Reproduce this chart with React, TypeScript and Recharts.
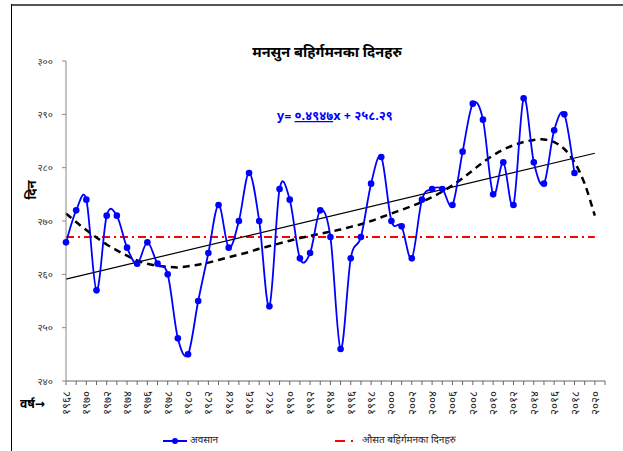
import React from 'react';
import { LineChart, Line, XAxis, YAxis, Legend } from 'recharts';

// years on the category axis (one spare slot at the end, as in the original)
const years = [
  1968, 1969, 1970, 1971, 1972, 1973, 1974, 1975, 1976, 1977,
  1978, 1979, 1980, 1981, 1982, 1983, 1984, 1985, 1986, 1987,
  1988, 1989, 1990, 1991, 1992, 1993, 1994, 1995, 1996, 1997,
  1998, 1999, 2000, 2001, 2002, 2003, 2004, 2005, 2006, 2007,
  2008, 2009, 2010, 2011, 2012, 2013, 2014, 2015, 2016, 2017,
  2018, 2019, 2020, 2021,
];

// monsoon withdrawal day, 1968-2018
const withdrawal = [
  266, 272, 274, 257, 271, 271, 265, 262, 266, 262,
  260, 248, 245, 255, 264, 273, 265, 270, 279, 270,
  254, 276, 274, 263, 264, 272, 267, 246, 263, 267,
  277, 282, 270, 269, 263, 274, 276, 276, 273, 283,
  292, 289, 275, 281, 273, 293, 281, 277, 287, 290,
  279,
];

// polynomial trend (dashed), 1968-2020
const polyTrend = [
  271.4, 269.8, 268.3, 266.9, 265.6, 264.5, 263.5, 262.6, 262.0, 261.6,
  261.4, 261.3, 261.5, 261.8, 262.2, 262.7, 263.2, 263.7, 264.2, 264.8,
  265.3, 265.8, 266.3, 266.8, 267.2, 267.6, 268.0, 268.4, 268.9, 269.4,
  270.0, 270.7, 271.4, 272.1, 272.8, 273.6, 274.5, 275.5, 276.7, 278.0,
  279.5, 281.0, 282.3, 283.4, 284.2, 284.8, 285.2, 285.3, 284.8, 283.5,
  281.0, 277.0, 271.0,
];

// linear trend end points (1968 and 2020)
const linearStart = 259.1;
const linearEnd = 282.7;
// long term average withdrawal day
const averageDay = 267;

const yTicks = [240, 250, 260, 270, 280, 290, 300];

const devDigits = ['०', '१', '२', '३', '४', '५', '६', '७', '८', '९'];
const toDev = (n: number | string) =>
  String(n).replace(/[0-9]/g, (d) => devDigits[Number(d)]);

const chartData = years.map((year, i) => ({
  year,
  withdrawal: i < withdrawal.length ? withdrawal[i] : null,
  poly: i < polyTrend.length ? polyTrend[i] : null,
  linear: i === 0 ? linearStart : i === polyTrend.length - 1 ? linearEnd : null,
  average: i < polyTrend.length ? averageDay : null,
}));

const FONT = "'Noto Sans Devanagari', 'Lohit Devanagari', 'Noto Sans', 'DejaVu Sans', sans-serif";

// excel style smoothed line (bezier through every point)
const excelSmooth = (context: any) => {
  let pts: number[][] = [];
  return {
    areaStart() {},
    areaEnd() {},
    lineStart() {
      pts = [];
    },
    point(x: number, y: number) {
      pts.push([+x, +y]);
    },
    lineEnd() {
      if (!pts.length) return;
      context.moveTo(pts[0][0], pts[0][1]);
      for (let i = 0; i < pts.length - 1; i++) {
        const p0 = pts[i - 1] || pts[i];
        const p1 = pts[i];
        const p2 = pts[i + 1];
        const p3 = pts[i + 2] || p2;
        context.bezierCurveTo(
          p1[0] + (p2[0] - p0[0]) / 6,
          p1[1] + (p2[1] - p0[1]) / 6,
          p2[0] - (p3[0] - p1[0]) / 6,
          p2[1] - (p3[1] - p1[1]) / 6,
          p2[0],
          p2[1]
        );
      }
    },
  };
};

const YearTick = ({ x, y, payload }: any) => {
  if (payload.value % 2 !== 0) return <g />;
  const ty = y + 4;
  return (
    <text
      x={x}
      y={ty}
      dy="0.35em"
      textAnchor="end"
      transform={`rotate(-90, ${x}, ${ty})`}
      fontSize={11.5}
      fill="#222"
      fontFamily={FONT}
    >
      {toDev(payload.value)}
    </text>
  );
};

const renderLegend = () => (
  <div style={{ position: 'relative', width: 623, height: 16, fontFamily: FONT, fontSize: 10, color: '#222' }}>
    <svg width={623} height={16} style={{ position: 'absolute', left: 0, top: 0 }}>
      <line x1={163} y1={8} x2={187} y2={8} stroke="#0000FF" strokeWidth={2} />
      <circle cx={175} cy={8} r={3} fill="#0000FF" />
      <line x1={335} y1={8} x2={345} y2={8} stroke="#FF0000" strokeWidth={2} />
      <line x1={351} y1={8} x2={353} y2={8} stroke="#FF0000" strokeWidth={2} />
    </svg>
    <span style={{ position: 'absolute', left: 190, top: 1, lineHeight: '14px' }}>अवसान</span>
    <span style={{ position: 'absolute', left: 362, top: 1, lineHeight: '14px' }}>औसत बहिर्गमनका दिनहरु</span>
  </div>
);

export default function App() {
  return (
    <div style={{ position: 'fixed', left: 0, top: 0, width: 623, height: 451, background: '#fff', overflow: 'hidden' }}>
      <div style={{ position: 'absolute', left: 11, top: 4, width: 612, height: 2, background: '#555' }} />
      <div style={{ position: 'absolute', left: 11, top: 4, width: 1, height: 447, background: '#000' }} />
      <LineChart
        width={623}
        height={451}
        data={chartData}
        margin={{ top: 61, right: 18, bottom: 14, left: 0 }}
        style={{ fontFamily: FONT }}
      >
        <XAxis
          dataKey="year"
          type="category"
          interval={0}
          height={40}
          tick={<YearTick />}
          tickSize={4}
          stroke="#666"
          tickLine={{ stroke: '#666' }}
        />
        <YAxis
          domain={[240, 300]}
          ticks={yTicks}
          width={66}
          tickSize={4}
          tickMargin={9}
          stroke="#888"
          tick={{ fontSize: 10, fill: '#333', fontFamily: FONT }}
          tickFormatter={(v: number) => toDev(v)}
          allowDataOverflow
        />
        <Legend verticalAlign="bottom" content={renderLegend} wrapperStyle={{ top: 433, left: 0, width: 623, height: 16 }} />
        <Line
          dataKey="average"
          stroke="#FF0000"
          strokeWidth={2}
          strokeDasharray="8 4 2 4"
          dot={false}
          activeDot={false}
          isAnimationActive={false}
          legendType="none"
        />
        <Line
          dataKey="linear"
          stroke="#000"
          strokeWidth={1.2}
          dot={false}
          activeDot={false}
          connectNulls
          isAnimationActive={false}
          legendType="none"
        />
        <Line
          dataKey="poly"
          stroke="#000"
          strokeWidth={2.5}
          strokeDasharray="7 5"
          type={excelSmooth as any}
          dot={false}
          activeDot={false}
          isAnimationActive={false}
          legendType="none"
        />
        <Line
          dataKey="withdrawal"
          stroke="#0000FF"
          strokeWidth={1.8}
          type={excelSmooth as any}
          dot={{ r: 3.3, fill: '#0000FF', stroke: '#0000FF', strokeWidth: 0 }}
          activeDot={false}
          isAnimationActive={false}
        />
        <text x={327} y={57} textAnchor="middle" fontSize={14.5} fontWeight="bold" fill="#000" fontFamily={FONT}>
          मनसुन बहिर्गमनका दिनहरु
        </text>
        <text x={277} y={120} fontSize={12.5} fontWeight="bold" fill="#0000FF" fontFamily={FONT}>
          y= <tspan textDecoration="underline">०.४९४७</tspan>x +  २५८.२९
        </text>
        <text
          x={31}
          y={190}
          textAnchor="middle"
          dy="0.35em"
          transform="rotate(-90, 31, 190)"
          fontSize={13}
          fontWeight="bold"
          fill="#000"
          fontFamily={FONT}
        >
          दिन
        </text>
        <text x={20} y={408} fontSize={12} fontWeight="bold" fill="#000" fontFamily={FONT}>
          वर्ष→
        </text>
      </LineChart>
    </div>
  );
}
